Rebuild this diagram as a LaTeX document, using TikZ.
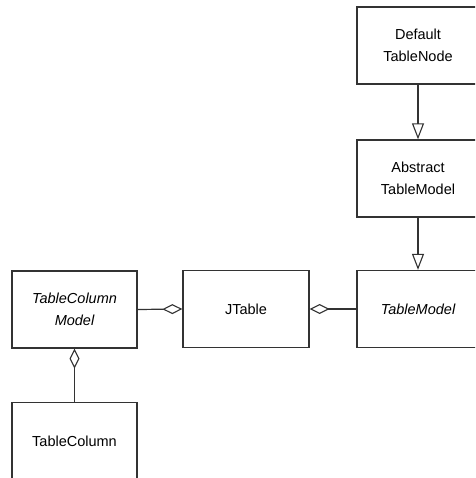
\documentclass[tikz,border=0pt]{standalone}
\usepackage{fontspec}
\setmainfont{Liberation Sans}
\usetikzlibrary{arrows.meta}
\tikzset{
  cls/.style={draw=black!80, line width=1.3pt, fill=white, align=center,
    minimum width=122pt, minimum height=77pt, inner sep=0pt,
    font=\fontsize{14.5}{22}\selectfont},
  gen/.style={draw=black!80, line width=1.2pt,
    -{Triangle[open,length=16pt,width=12pt,line width=1.1pt]}},
  agg/.style={draw=black!80, line width=1.2pt,
    -{Diamond[open,length=20pt,width=10pt,line width=1.1pt]}}
}
\begin{document}
\begin{tikzpicture}[x=1pt,y=-1pt]
\clip (0,0) rectangle (475,478);
\fill[white] (0,0) rectangle (475,478);
\node[cls] (dtn) at (418,45.5) {Default\\TableNode};
\node[cls] (atm) at (418,178.5) {Abstract\\TableModel};
\node[cls] (tm) at (418,309) {\itshape TableModel};
\node[cls, minimum width=126pt] (jt) at (246,309) {JTable};
\node[cls, minimum width=125pt] (tcm) at (74.5,309.5) {\itshape TableColumn\\\itshape Model};
\node[cls, minimum width=125pt] (tc) at (74.5,441) {TableColumn};
\draw[gen] (dtn.south) -- (atm.north);
\draw[gen] (atm.south) -- (tm.north);
\draw[agg] (tcm.east) -- (jt.west);
\draw[agg] (tm.west) -- (jt.east);
\draw[agg] (tc.north) -- (tcm.south);
\end{tikzpicture}
\end{document}
